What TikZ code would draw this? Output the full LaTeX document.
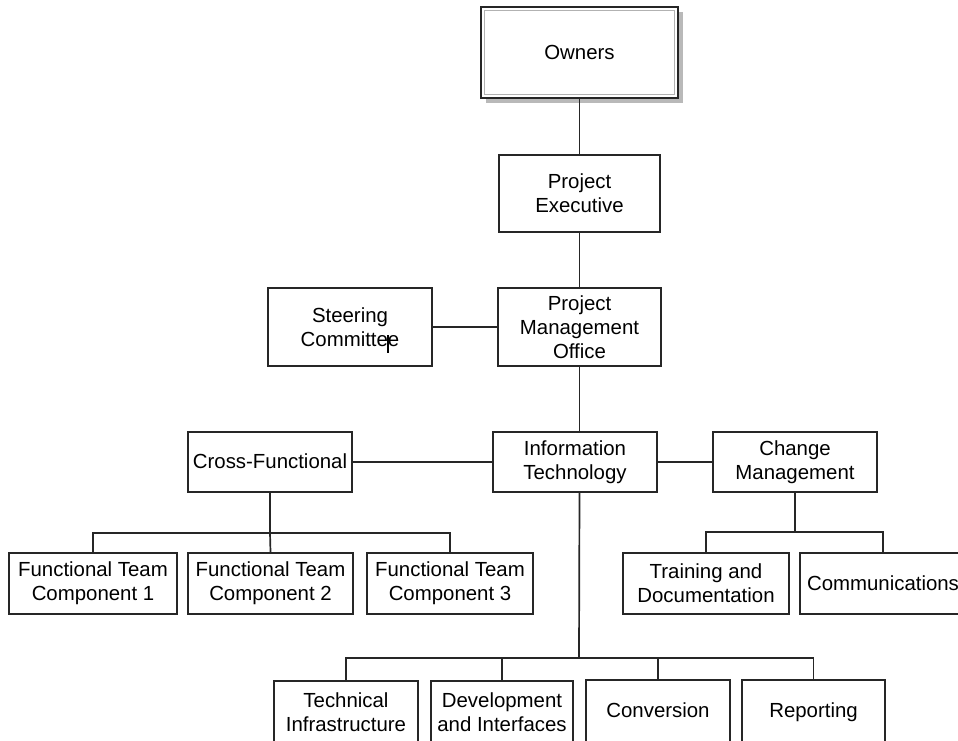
\documentclass[tikz,border=0pt]{standalone}
\usepackage{fontspec}
\setmainfont{Liberation Sans}
\begin{document}
\begin{tikzpicture}[x=1pt,y=-1pt,
  box/.style={draw=black!85, line width=1.6pt, fill=white, rectangle, inner sep=0pt,
    align=center, font=\fontsize{20.4pt}{24pt}\selectfont},
  oneline/.style={text height=15.5pt, text depth=2.5pt},
  link/.style={draw=black!85, line width=1.7pt}]
\useasboundingbox (0,0) rectangle (958,740);
\clip (0,0) rectangle (958,740);
% Owners with shadow and double border
\fill[gray!55] (486,12) rectangle (683,103);
\node[box, oneline, minimum width=197pt, minimum height=91pt] (owners) at (579.5,52.5) {Owners};
\draw[gray!60, line width=1.1pt] (484.5,10.5) rectangle (674.5,94.5);
\node[box, minimum width=161pt, minimum height=77pt] (pe) at (579.5,193.5) {Project\\Executive};
\node[box, minimum width=163pt, minimum height=78pt] (pmo) at (579.5,327) {Project\\Management\\Office};
\node[box, minimum width=164pt, minimum height=78pt] (sc) at (350,327) {Steering\\Committee};
\node[box, minimum width=164pt, minimum height=60pt] (it) at (575,462) {Information\\Technology};
\node[box, oneline, minimum width=164pt, minimum height=60pt] (cf) at (270,462) {Cross-Functional};
\node[box, minimum width=164pt, minimum height=60pt] (cm) at (795,462) {Change\\Management};
\node[box, minimum width=168pt, minimum height=61pt] (ft1) at (93,583.5) {Functional Team\\Component 1};
\node[box, minimum width=165pt, minimum height=61pt] (ft2) at (270.5,583.5) {Functional Team\\Component 2};
\node[box, minimum width=166pt, minimum height=61pt] (ft3) at (450,583.5) {Functional Team\\Component 3};
\node[box, minimum width=166pt, minimum height=61pt] (tr) at (706,583.5) {Training and\\Documentation};
\node[box, oneline, minimum width=166pt, minimum height=61pt] (comm) at (883,583.5) {Communications};
\node[box, minimum width=144pt, minimum height=62pt] (ti) at (346,712) {Technical\\Infrastructure};
\node[box, minimum width=142pt, minimum height=62pt] (di) at (502,712) {Development\\and Interfaces};
\node[box, oneline, minimum width=144pt, minimum height=62pt] (conv) at (658,711) {Conversion};
\node[box, oneline, minimum width=143pt, minimum height=62pt] (rep) at (813.5,711) {Reporting};
% cursor mark
\draw[black, line width=1.3pt] (388,335) -- (388,353);
% bus points
\coordinate (busA) at (270,533);
\coordinate (busB) at (795,532);
\coordinate (busC) at (579,658);
% connectors
\draw[link] (owners.south) -- (pe.north);
\draw[link] (pe.south) -- (pmo.north);
\draw[link] (sc.east) -- (pmo.west);
\draw[link] (pmo.south) -- (pmo.south |- it.north);
\draw[link] (cf.east) -- (it.west);
\draw[link] (it.east) -- (cm.west);
\draw[link] (cf.south) -- (busA);
\draw[link] (ft1.north) |- (busA) -| (ft3.north);
\draw[link] (busA) -- (ft2.north);
\draw[link] (cm.south) -- (busB);
\draw[link] (tr.north) |- (busB) -| (comm.north);
\draw[link] (pmo.south |- it.south) -- (busC);
\draw[link] (ti.north) |- (busC) -| (rep.north);
\draw[link] (di.north) |- (busC);
\draw[link] (conv.north) |- (busC);
\end{tikzpicture}
\end{document}
